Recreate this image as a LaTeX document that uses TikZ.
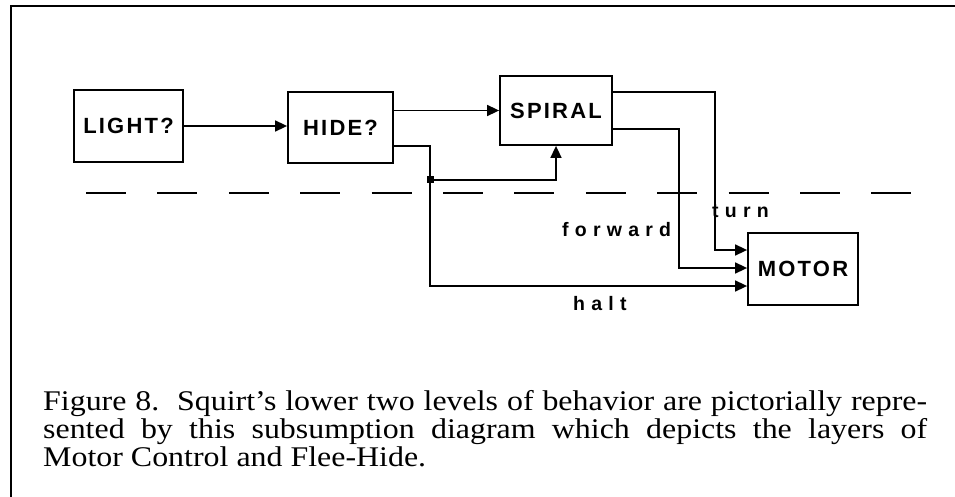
\documentclass[tikz,border=0pt]{standalone}
\usepackage{fontspec}
\setmainfont{Liberation Serif}[FakeStretch=1.12]
\newfontfamily\boxfont[LetterSpace=10]{Liberation Sans}
\newfontfamily\lblfont[LetterSpace=32]{Liberation Sans}
\usetikzlibrary{arrows.meta}
\begin{document}
\begin{tikzpicture}[x=1pt,y=-1pt,
  blk/.style={draw,line width=1.8pt,inner sep=0pt,
    font=\boxfont\bfseries\fontsize{22}{26}\selectfont},
  wire/.style={line width=1.6pt},
  arr/.style={wire,-{Triangle[length=12pt,width=11pt]}},
  lbl/.style={inner sep=0pt,font=\lblfont\bfseries\fontsize{19.5}{23}\selectfont},
  dashline/.style={line width=2.6pt,dash pattern=on 40pt off 31.4pt},
  frame/.style={line width=2.5pt},
  captxt/.style={inner sep=0pt,anchor=base west,font=\fontsize{28.5}{29}\selectfont}]
\useasboundingbox (0,0) rectangle (955,497);
% frame
\coordinate (ftl) at (11,6);
\coordinate (ftr) at (955,6);
\coordinate (fbl) at (11,497);
\draw[frame] (ftr) -- (ftl) -- (fbl);
% blocks
\node[blk,minimum width=109pt,minimum height=72pt] (light) at (128.5,126) {LIGHT?};
\node[blk,minimum width=105pt,minimum height=71pt] (hide) at (340.5,127.5) {HIDE?};
\node[blk,minimum width=112pt,minimum height=69pt] (spiral) at (556,110.5) {SPIRAL};
\node[blk,minimum width=110pt,minimum height=72pt] (motor) at (803,269) {MOTOR};
% dashed layer boundary
\coordinate (dl) at (86,193);
\coordinate (dr) at (912,193);
\draw[dashline] (dl) -- (dr);
% junction
\node[fill,minimum size=7pt,inner sep=0pt] (dot) at (430,180) {};
\coordinate (tx) at (715,0);
\coordinate (fx) at (679,0);
\coordinate (s1) at ([yshift=-17pt]spiral.north east);
\coordinate (s2) at ([yshift=17pt]spiral.south east);
\coordinate (h2) at ([yshift=18pt]hide.south east);
\coordinate (m1) at ([yshift=19pt]motor.west);
\coordinate (m2) at ([yshift=1pt]motor.west);
\coordinate (m3) at ([yshift=-17pt]motor.west);
% connectors
\draw[arr] (light.east) -- (light.east -| hide.west);
\draw[arr] (hide.east |- spiral.west) -- (spiral.west);
\draw[wire] (h2) -| (dot.center);
\draw[arr] (dot.center) -| (spiral.south);
\draw[arr] (dot.center) |- (m3);
\draw[arr] (s1) -| (tx |- m1) -- (m1);
\draw[arr] (s2) -| (fx |- m2) -- (m2);
% labels
\node[lbl,anchor=base west] (turn) at (712,217) {turn};
\node[lbl,anchor=base west] (fwd) at (562,236) {forward};
\node[lbl,anchor=base west] (halt) at (573,310) {halt};
% caption
\node[captxt] (cap1) at (43,410) {\makebox[884pt][s]{Figure 8.\ \ Squirt’s lower two levels of behavior are pictorially repre-}};
\node[captxt] (cap2) at (43,438) {\makebox[884pt][s]{sented by this subsumption diagram which depicts the layers of}};
\node[captxt] (cap3) at (43,466) {Motor Control and Flee-Hide.};
\end{tikzpicture}
\end{document}
